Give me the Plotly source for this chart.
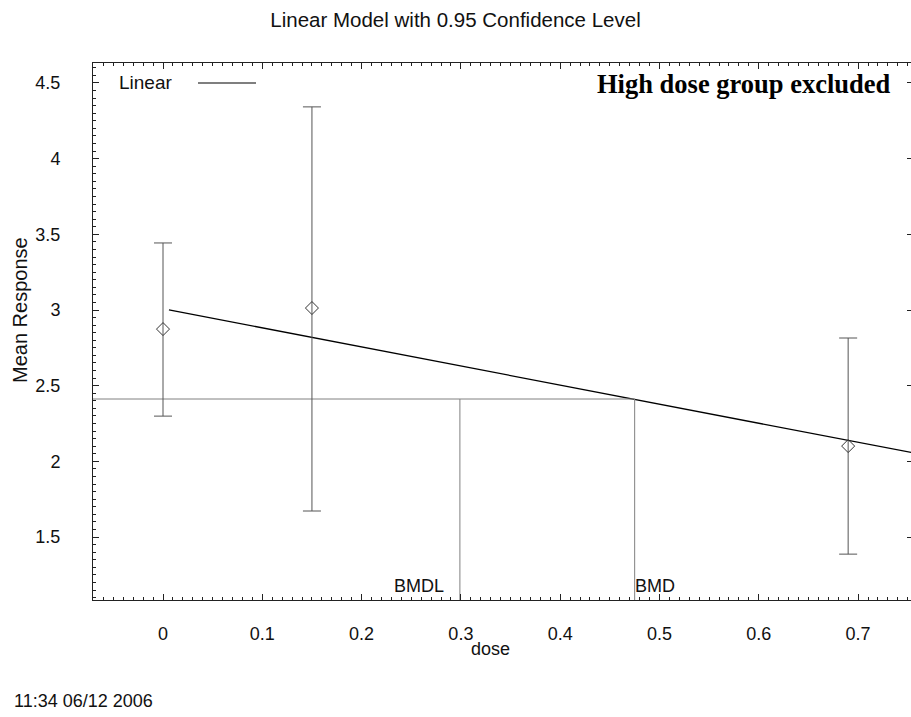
import plotly.graph_objects as go

# ---- data ----
dose = [0.0, 0.15, 0.69]
mean_response = [2.874, 3.013, 2.101]
ci_upper = [3.443, 4.342, 2.815]
ci_lower = [2.299, 1.672, 1.387]

model_intercept = 3.008
model_slope = -1.26
model_dose = [0.006, 0.76]

bmd = 0.475
bmdl = 0.299
bmd_response = 2.412

x_range = [-0.0705, 0.7533]
y_range = [1.084, 4.632]
x_ticks = [0, 0.1, 0.2, 0.3, 0.4, 0.5, 0.6, 0.7]
y_ticks = [1.5, 2, 2.5, 3, 3.5, 4, 4.5]

FONT = "Liberation Sans, Arial, sans-serif"

fig = go.Figure()

model_resp = [model_intercept + model_slope * d for d in model_dose]
fig.add_trace(go.Scatter(x=model_dose, y=model_resp, mode="lines",
                         line=dict(color="black", width=1.3),
                         showlegend=False, hoverinfo="skip"))

# BMD construction lines
fig.add_trace(go.Scatter(x=[x_range[0], bmd], y=[bmd_response, bmd_response],
                         mode="lines", line=dict(color="#808080", width=1),
                         showlegend=False, hoverinfo="skip"))
fig.add_trace(go.Scatter(x=[bmd, bmd], y=[bmd_response, y_range[0]],
                         mode="lines", line=dict(color="#808080", width=1),
                         showlegend=False, hoverinfo="skip"))
fig.add_trace(go.Scatter(x=[bmdl, bmdl], y=[bmd_response, y_range[0]],
                         mode="lines", line=dict(color="#808080", width=1),
                         showlegend=False, hoverinfo="skip"))

# data points with confidence intervals
fig.add_trace(go.Scatter(
    x=dose, y=mean_response, mode="markers",
    marker=dict(symbol="diamond-open", size=10, color="#333333",
                line=dict(width=1, color="#333333")),
    error_y=dict(type="data", symmetric=False,
                 array=[u - m for u, m in zip(ci_upper, mean_response)],
                 arrayminus=[m - l for m, l in zip(mean_response, ci_lower)],
                 color="#555555", thickness=1, width=9),
    showlegend=False, hoverinfo="skip"))

# invisible trace for right-hand tick axis
fig.add_trace(go.Scatter(x=[dose[0]], y=[mean_response[0]], yaxis="y2",
                         mode="markers", marker=dict(opacity=0),
                         showlegend=False, hoverinfo="skip"))

fig.update_layout(
    width=911, height=717,
    margin=dict(l=93, r=0, t=63, b=117),
    paper_bgcolor="white", plot_bgcolor="white",
    font=dict(family=FONT, size=18, color="#111111"),
    title=dict(text="Linear Model with 0.95 Confidence Level",
               x=0.5, xref="container", xanchor="center",
               y=1 - 20 / 717, yref="container", yanchor="middle",
               font=dict(family=FONT, size=20.5, color="#111111")),
    xaxis=dict(range=x_range, tickvals=x_ticks, ticks="inside", ticklen=6,
               showline=True, linecolor="#222222", linewidth=1, mirror="ticks",
               showgrid=False, zeroline=False, ticklabelstandoff=17,
               tickcolor="#222222", tickfont=dict(size=18),
               minor=dict(dtick=0.01, ticks="inside", ticklen=3,
                          tickcolor="#222222", showgrid=False)),
    yaxis=dict(range=y_range, tickvals=y_ticks, ticks="inside", ticklen=6,
               showline=True, linecolor="#222222", linewidth=1,
               showgrid=False, zeroline=False, ticklabelstandoff=28,
               tickcolor="#222222", tickfont=dict(size=18),
               minor=dict(dtick=0.05, tick0=1.5, ticks="inside", ticklen=3,
                          tickcolor="#222222", showgrid=False)),
    yaxis2=dict(range=y_range, overlaying="y", side="right", showline=False,
                tickvals=y_ticks, ticks="inside", ticklen=4, tickcolor="#222222",
                showticklabels=False, showgrid=False, zeroline=False),
)

top_px, bot_px, left_px, right_px = 63, 600, 93, 911
def px(xp):
    return (xp - left_px) / (right_px - left_px)
def py(yp):
    return (bot_px - yp) / (bot_px - top_px)

annotations = [
    dict(text="dose", xref="paper", yref="paper", x=px(490), y=py(649),
         xanchor="center", yanchor="middle", showarrow=False,
         font=dict(size=18)),
    dict(text="Mean Response", xref="paper", yref="paper", x=px(20), y=py(310),
         xanchor="center", yanchor="middle", textangle=-90, showarrow=False,
         font=dict(size=20)),
    dict(text="11:34 06/12 2006", xref="paper", yref="paper", x=px(12), y=py(701),
         xanchor="left", yanchor="middle", showarrow=False),
    dict(text="Linear", xref="paper", yref="paper", x=px(117), y=py(83),
         xanchor="left", yanchor="middle", showarrow=False, font=dict(size=19)),
    dict(text="<b>High dose group excluded</b>", xref="paper", yref="paper",
         x=px(893), y=py(84), xanchor="right", yanchor="middle", showarrow=False,
         font=dict(family="Liberation Serif, Times New Roman, serif", size=26.5,
                   color="black")),
    dict(text="BMDL", xref="x", yref="paper", x=bmdl, y=0, xanchor="right",
         yanchor="bottom", xshift=-14, yshift=2, showarrow=False),
    dict(text="BMD", xref="x", yref="paper", x=bmd, y=0, xanchor="left",
         yanchor="bottom", xshift=-2, yshift=2, showarrow=False),
]
fig.update_layout(annotations=annotations)

fig.add_shape(type="line", xref="paper", yref="paper",
              x0=px(198), x1=px(256), y0=py(83), y1=py(83),
              line=dict(color="black", width=1.2))

fig.write_html("out.html",
               config={"displayModeBar": False},
               post_script="document.body.style.margin='0';"
                           "document.body.style.overflow='hidden';")
